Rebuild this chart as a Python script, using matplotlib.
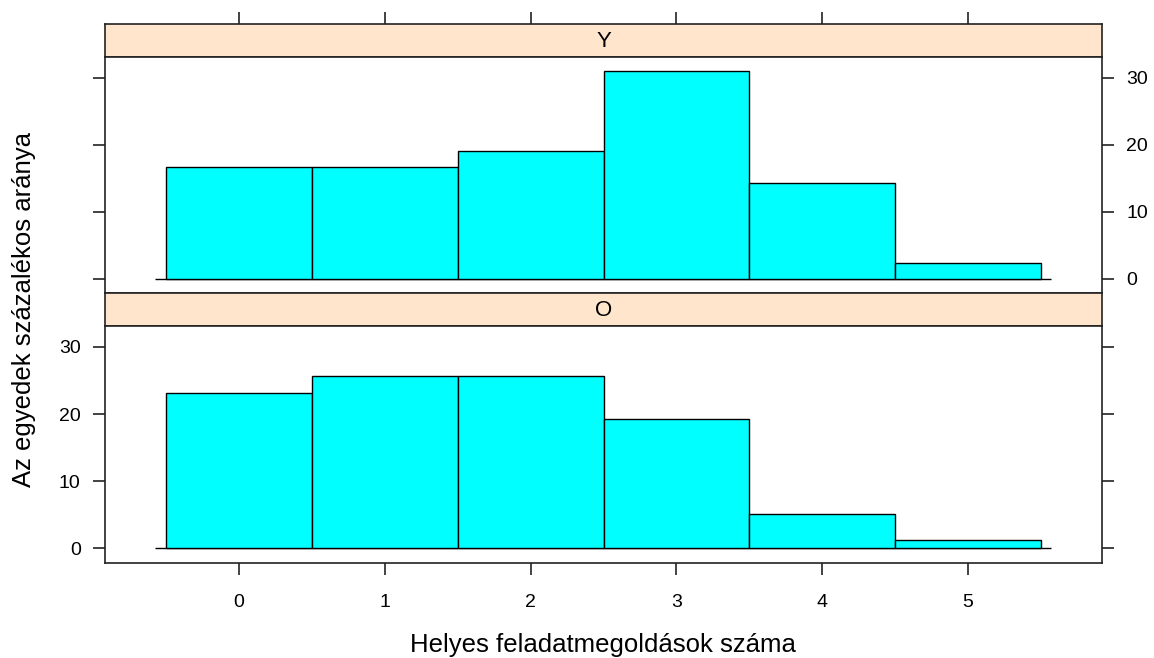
import matplotlib
matplotlib.use("Agg")
import matplotlib.pyplot as plt
import numpy as np

plt.rcParams['font.family'] = ['Liberation Sans', 'DejaVu Sans']

categories = [0, 1, 2, 3, 4, 5]
pct_Y = [16.67, 16.67, 19.05, 30.95, 14.29, 2.38]
pct_O = [23.08, 25.64, 25.64, 19.23, 5.13, 1.28]
yticks = [0, 10, 20, 30]
xlabel = "Helyes feladatmegoldások száma"
ylabel = "Az egyedek százalékos aránya"
panels = [("Y", pct_Y), ("O", pct_O)]

W, H = 1154, 658
fig = plt.figure(figsize=(W / 100, H / 100), dpi=100)

def px_axes(x0, y0, x1, y1):
    return fig.add_axes([x0 / W, 1 - y1 / H, (x1 - x0) / W, (y1 - y0) / H])

left, right = 105, 1102
layout = [(24, 57, 293), (293, 326, 563)]

xmin, xmax = categories[0] - 0.5, categories[-1] + 0.5
pad = 0.07 * (xmax - xmin)
xlim = (xmin - pad, xmax + pad)
ymax = max(max(pct_Y), max(pct_O))
ylim = (-0.07 * ymax, 1.07 * ymax)

tick_len = 8.5
lc = '#222222'
fs_tick = 14

for i, ((name, vals), (s0, p0, p1)) in enumerate(zip(panels, layout)):
    sax = px_axes(left, s0, right, p0)
    sax.set_facecolor('#FFE5CC')
    sax.set_xlim(xlim)
    sax.set_yticks([])
    sax.text(0.5, 0.48, name, transform=sax.transAxes, ha='center', va='center',
             fontsize=16, color='black')
    for sp in sax.spines.values():
        sp.set_color(lc)
        sp.set_linewidth(1.2)
    if i == 0:
        sax.xaxis.set_ticks_position('top')
        sax.set_xticks(categories)
        sax.tick_params(axis='x', direction='out', length=tick_len, width=1.2,
                        color=lc, labeltop=False, labelbottom=False)
    else:
        sax.set_xticks([])

    ax = px_axes(left, p0, right, p1)
    ax.bar(categories, vals, width=1.0, color='#00FFFF', edgecolor='black', linewidth=1.0, zorder=2)
    ax.hlines(0, categories[0] - 0.58, categories[-1] + 0.57, color='black', linewidth=1.0, zorder=1)
    ax.set_xlim(xlim)
    ax.set_ylim(ylim)
    for sp in ax.spines.values():
        sp.set_color(lc)
        sp.set_linewidth(1.2)
    ax.set_yticks(yticks)
    ax.yaxis.set_ticks_position('both')
    if i == 0:
        ax.tick_params(axis='y', direction='out', length=tick_len, width=1.2, color=lc,
                       labelleft=False, labelright=True, labelsize=fs_tick, pad=9)
        ax.set_xticks([])
    else:
        ax.tick_params(axis='y', direction='out', length=tick_len, width=1.2, color=lc,
                       labelleft=True, labelright=False, labelsize=fs_tick, pad=9)
        ax.set_xticks(categories)
        ax.tick_params(axis='x', direction='out', length=tick_len, width=1.2, color=lc,
                       labelsize=fs_tick, pad=14)

fig.text(603 / W, 1 - 645 / H, xlabel, ha='center', va='center', fontsize=18.5)
fig.text(24 / W, 1 - 309 / H, ylabel, ha='center', va='center', rotation=90, fontsize=18.5)

fig.savefig("out.png", dpi=100)
